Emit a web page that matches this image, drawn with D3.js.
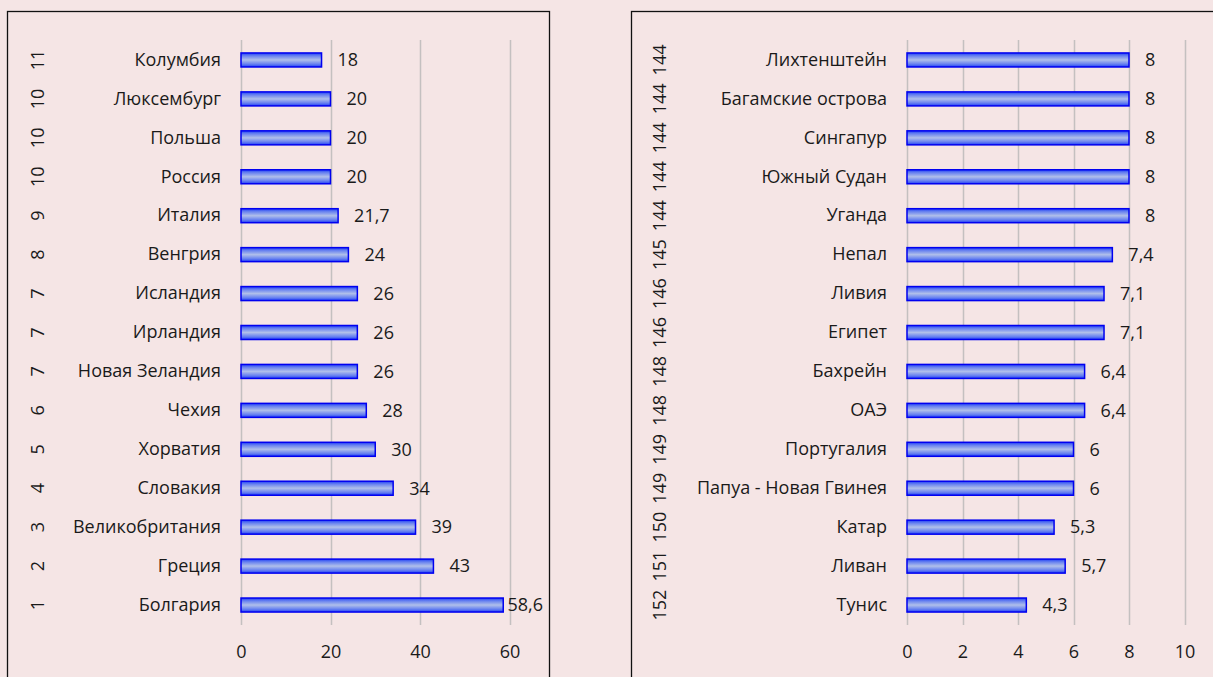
<!DOCTYPE html>
<html>
<head>
<meta charset="utf-8">
<script src="https://cdn.jsdelivr.net/npm/d3@7"></script>
<style>
  html, body { margin: 0; padding: 0; background: #f5e5e5; }
  svg { display: block; }
  text { font-family: "Open Sans", "Noto Sans", sans-serif; fill: #1a1a1a; }
</style>
</head>
<body>
<svg id="chart" width="1213" height="677"></svg>
<script>
// Left panel: lowest rank positions
const leftCountries = ["Колумбия", "Люксембург", "Польша", "Россия", "Италия", "Венгрия", "Исландия", "Ирландия", "Новая Зеландия", "Чехия", "Хорватия", "Словакия", "Великобритания", "Греция", "Болгария"];
const leftValues = [18, 20, 20, 20, 21.7, 24, 26, 26, 26, 28, 30, 34, 39, 43, 58.6];
const leftRanks = ["11", "10", "10", "10", "9", "8", "7", "7", "7", "6", "5", "4", "3", "2", "1"];
const leftTicks = [0, 20, 40, 60];

// Right panel: highest rank positions
const rightCountries = ["Лихтенштейн", "Багамские острова", "Сингапур", "Южный Судан", "Уганда", "Непал", "Ливия", "Египет", "Бахрейн", "ОАЭ", "Португалия", "Папуа - Новая Гвинея", "Катар", "Ливан", "Тунис"];
const rightValues = [8, 8, 8, 8, 8, 7.4, 7.1, 7.1, 6.4, 6.4, 6, 6, 5.3, 5.7, 4.3];
const rightRanks = ["144", "144", "144", "144", "144", "145", "146", "146", "148", "148", "149", "149", "150", "151", "152"];
const rightTicks = [0, 2, 4, 6, 8, 10];

const svg = d3.select("#chart");
const fmt = v => String(v).replace(".", ",");
const FS = 18;

// bar fill: blue edges, pale centre
const defs = svg.append("defs");
const grad = defs.append("linearGradient")
  .attr("id", "barFill").attr("x1", 0).attr("y1", 0).attr("x2", 0).attr("y2", 1);
[[0, "#1f3ef6"], [0.2, "#6680f0"], [0.5, "#b0bfea"], [0.8, "#6680f0"], [1, "#1f3ef6"]]
  .forEach(([o, c]) => grad.append("stop").attr("offset", o).attr("stop-color", c));

function panel(cfg) {
  const g = svg.append("g");

  // frame
  g.append("rect")
    .attr("x", cfg.frameX).attr("y", 11.5)
    .attr("width", cfg.frameW).attr("height", 700)
    .attr("fill", "none").attr("stroke", "#111").attr("stroke-width", 1.3);

  const x = d3.scaleLinear().domain(cfg.domain).range(cfg.xRange);
  const y = d3.scaleBand().domain(cfg.countries).range([40.5, 624.5]).paddingInner(0.64).paddingOuter(0.32);

  // vertical gridlines
  g.append("g").selectAll("line").data(cfg.ticks).join("line")
    .attr("x1", d => Math.round(x(d)) + 0.5).attr("x2", d => Math.round(x(d)) + 0.5)
    .attr("y1", 40).attr("y2", 625)
    .attr("stroke", "#c4c0c0").attr("stroke-width", 1.5);

  // x axis tick labels
  const axis = d3.axisBottom(x).tickValues(cfg.ticks).tickSize(0).tickPadding(0);
  const ax = g.append("g").attr("transform", "translate(0,652)").call(axis);
  ax.select(".domain").remove();
  ax.selectAll("text").attr("font-size", FS).attr("dy", "0.35em")
    .style("font-family", '"Open Sans", sans-serif').attr("fill", "#1a1a1a");

  // category labels
  const yAxis = d3.axisLeft(y).tickSize(0).tickPadding(0);
  const ay = g.append("g").attr("transform", `translate(${cfg.labelX},0)`).call(yAxis);
  ay.select(".domain").remove();
  ay.selectAll("text").attr("font-size", FS)
    .style("font-family", '"Open Sans", sans-serif').attr("fill", "#1a1a1a");

  // rank labels, rotated
  g.append("g").selectAll("text").data(cfg.countries).join("text")
    .attr("transform", (d, i) => `translate(${cfg.rankX},${y(d) + y.bandwidth() / 2}) rotate(-90)`)
    .attr("text-anchor", "middle").attr("dy", "0.35em")
    .attr("font-size", FS)
    .text((d, i) => cfg.ranks[i]);

  // bars
  g.append("g").selectAll("rect").data(cfg.values).join("rect")
    .attr("x", x(0))
    .attr("y", (d, i) => y(cfg.countries[i]))
    .attr("width", d => x(d) - x(0))
    .attr("height", y.bandwidth())
    .attr("fill", "url(#barFill)")
    .attr("stroke", "#0000f0").attr("stroke-width", 1.5);

  // value labels
  g.append("g").selectAll("text").data(cfg.values).join("text")
    .attr("y", (d, i) => y(cfg.countries[i]) + y.bandwidth() / 2)
    .attr("dy", "0.35em").attr("font-size", FS)
    .text(d => fmt(d))
    .each(function (d) {
      const w = this.getComputedTextLength();
      const pos = Math.min(x(d) + 16, cfg.plotRight - w);
      d3.select(this).attr("x", pos);
    });
}

panel({
  frameX: 7.5, frameW: 542,
  countries: leftCountries, values: leftValues, ranks: leftRanks, ticks: leftTicks,
  domain: [0, 60], xRange: [241, 509.5],
  labelX: 221, rankX: 38, plotRight: 543
});

panel({
  frameX: 631.5, frameW: 700,
  countries: rightCountries, values: rightValues, ranks: rightRanks, ticks: rightTicks,
  domain: [0, 10], xRange: [907, 1184.5],
  labelX: 887, rankX: 660, plotRight: 1205
});
</script>
</body>
</html>
